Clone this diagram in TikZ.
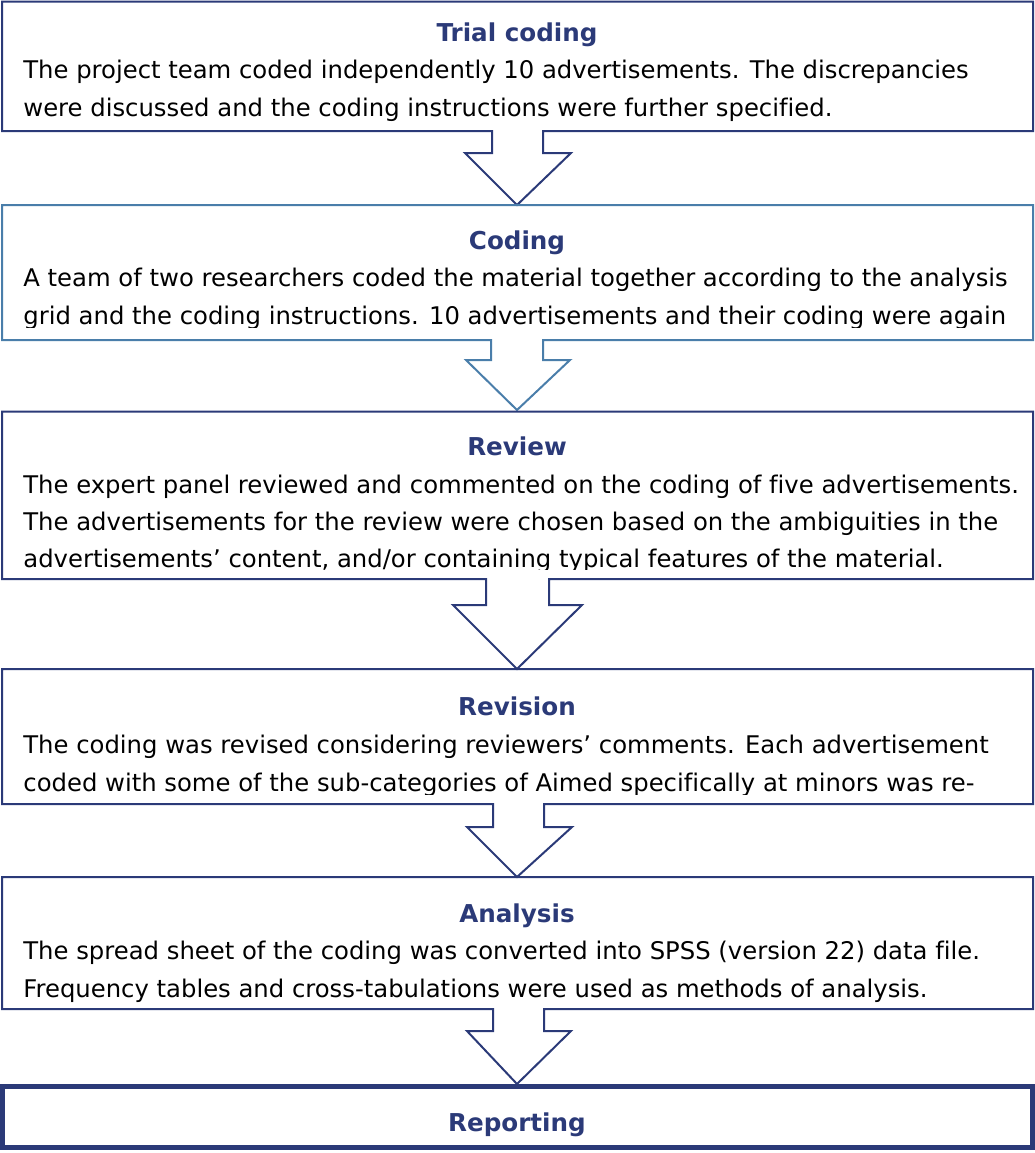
\documentclass[tikz,border=0pt]{standalone}
\usepackage{fontspec}
\setmainfont{DejaVu Sans}[Ligatures={TeX,NoCommon}]
\definecolor{navy}{HTML}{2B3A78}
\definecolor{steel}{HTML}{4A7EAA}

\begin{document}
\begin{tikzpicture}[x=0.5pt,y=-0.5pt,
	stage/.style={line width=1pt,draw=navy,line join=miter},
	head/.style={font=\fontsize{12.3}{18.5}\selectfont\bfseries,text=navy,anchor=base,inner sep=0pt},
	body/.style={font=\fontsize{12.15}{18.5}\selectfont,anchor=base west,inner sep=0pt}]
	\useasboundingbox (0,0) rectangle (1035,1153);
	% trial coding
	\draw[stage] (2,1.5)--(1033,1.5)--(1033,131)--(543,131)--(543,153)--(571,153)--(517,205)--(465,153)--(492,153)--(492,131)--(2,131)--cycle;
	\node[head] (trial) at (517,41) {Trial coding};
	\node[body] (trial1) at (23,78) {The project team coded independently 10 advertisements. The discrepancies};
	\node[body] (trial2) at (23,116) {were discussed and the coding instructions were further specified.};
	% coding
	\draw[stage,draw=steel] (2,205)--(1033,205)--(1033,340)--(543,340)--(543,360)--(570,360)--(517,410)--(466,360)--(491,360)--(491,340)--(2,340)--cycle;
	\begin{scope}
		\clip (2,205) rectangle (1033,327);
		\node[head] (coding) at (517,249) {Coding};
		\node[body] (coding1) at (23,286) {A team of two researchers coded the material together according to the analysis};
		\node[body] (coding2) at (23,324) {grid and the coding instructions. 10 advertisements and their coding were again};
	\end{scope}
	% review
	\draw[stage] (2,411.5)--(1033,411.5)--(1033,579)--(549,579)--(549,605)--(582,605)--(517,669)--(453,605)--(486,605)--(486,579)--(2,579)--cycle;
	\begin{scope}
		\clip (2,411) rectangle (1033,569);
		\node[head] (review) at (517,455) {Review};
		\node[body] (review1) at (23,493) {The expert panel reviewed and commented on the coding of five advertisements.};
		\node[body] (review2) at (23,530) {The advertisements for the review were chosen based on the ambiguities in the};
		\node[body] (review3) at (23,567) {advertisements' content, and/or containing typical features of the material.};
	\end{scope}
	% revision
	\draw[stage] (2,669)--(1033,669)--(1033,804)--(544,804)--(544,827)--(572,827)--(517,877)--(467,827)--(493,827)--(493,804)--(2,804)--cycle;
	\begin{scope}
		\clip (2,669) rectangle (1033,794);
		\node[head] (revision) at (517,715) {Revision};
		\node[body] (revision1) at (23,753) {The coding was revised considering reviewers' comments. Each advertisement};
		\node[body] (revision2) at (23,791) {coded with some of the sub-categories of Aimed specifically at minors was re-};
	\end{scope}
	% analysis
	\draw[stage] (2,877)--(1033,877)--(1033,1009)--(544,1009)--(544,1031)--(571,1031)--(517,1084)--(467,1031)--(493,1031)--(493,1009)--(2,1009)--cycle;
	\node[head] (analysis) at (517,922) {Analysis};
	\node[body] (analysis1) at (23,959) {The spread sheet of the coding was converted into SPSS (version 22) data file.};
	\node[body] (analysis2) at (23,997) {Frequency tables and cross-tabulations were used as methods of analysis.};
	% reporting
	\draw[stage,line width=2.5pt] (2.5,1086.5) rectangle (1032,1147.5);
	\node[head] (reporting) at (517,1131) {Reporting};
\end{tikzpicture}
\end{document}
